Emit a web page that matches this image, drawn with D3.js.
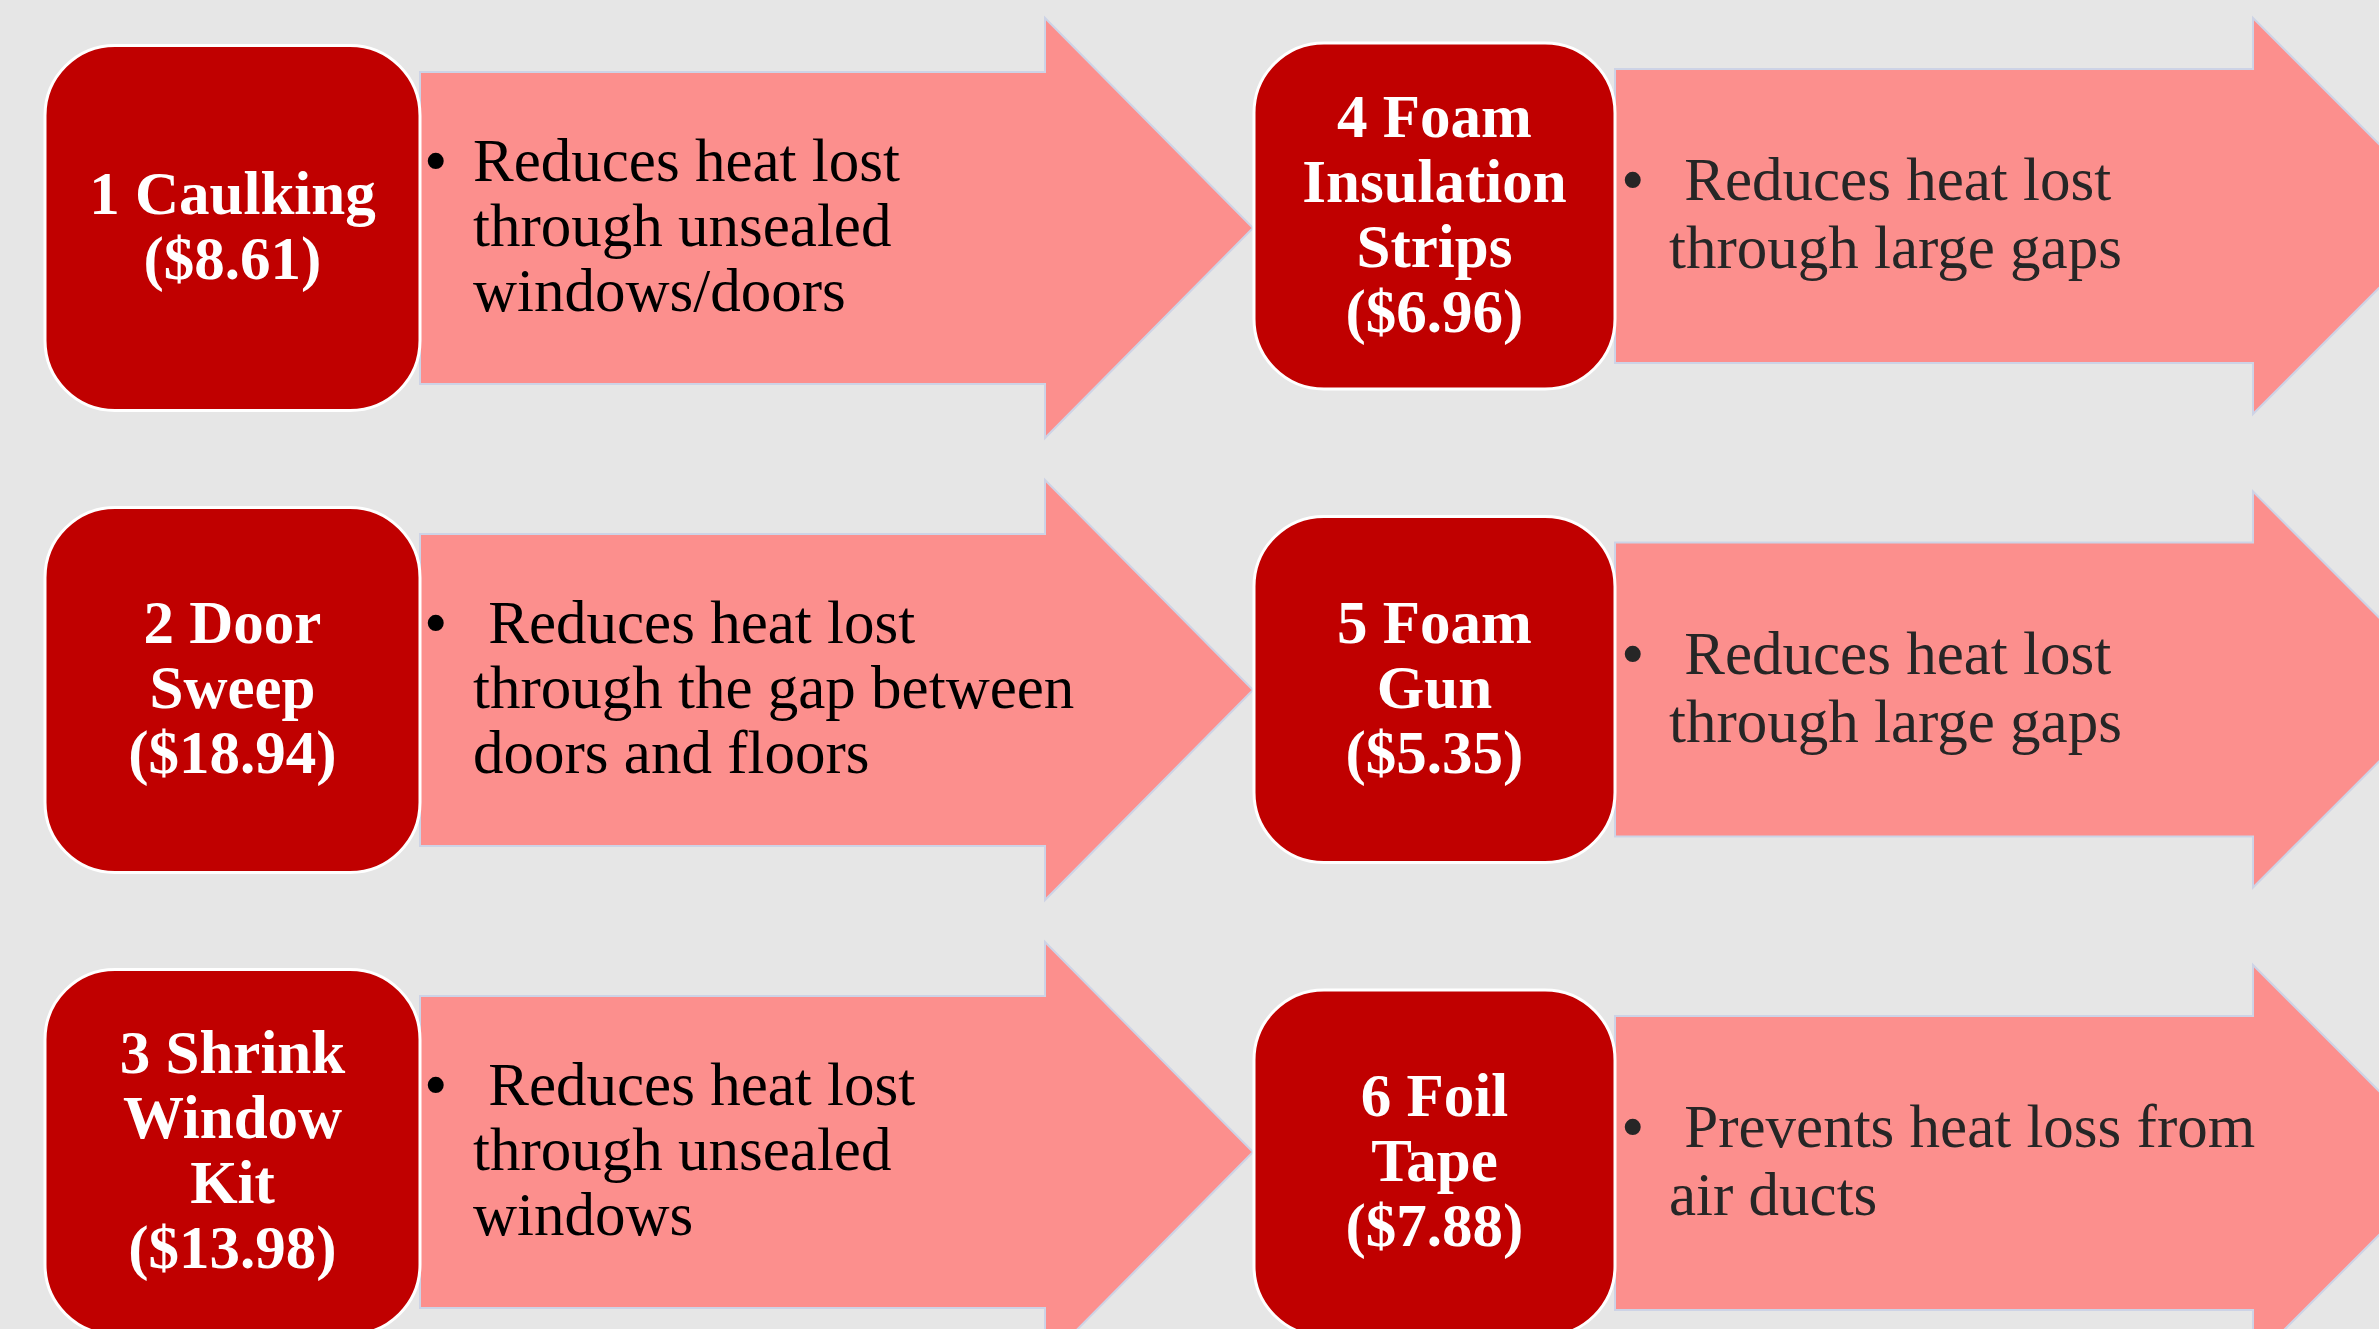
<!DOCTYPE html>
<html>
<head>
<meta charset="utf-8">
<script src="https://cdn.jsdelivr.net/npm/d3@7"></script>
<style>
  html, body { margin: 0; padding: 0; background: #e6e6e6; overflow: hidden; }
  text { font-family: Garamond, "Liberation Serif", serif; white-space: pre; }
</style>
</head>
<body>
<div id="chart"></div>
<script>
// item titles (as wrapped in the boxes), prices and bullet text
var titleLines = [
    ["1 Caulking"],
    ["2 Door", "Sweep"],
    ["3 Shrink", "Window", "Kit"],
    ["4 Foam", "Insulation", "Strips"],
    ["5 Foam", "Gun"],
    ["6 Foil", "Tape"]
];
var prices = [8.61, 18.94, 13.98, 6.96, 5.35, 7.88];
var descLines = [
    ["Reduces heat lost", "through unsealed", "windows/doors"],
    [" Reduces heat lost", "through the gap between", "doors and floors"],
    [" Reduces heat lost", "through unsealed", "windows"],
    [" Reduces heat lost", "through large gaps"],
    [" Reduces heat lost", "through large gaps"],
    [" Prevents heat loss from", "air ducts"]
];
var columnOf = [0, 0, 0, 1, 1, 1];
var rowOf = [0, 1, 2, 0, 1, 2];

var width = 2379, height = 1329;

var svg = d3.select("#chart").append("svg")
    .attr("width", width)
    .attr("height", height);

svg.append("rect")
    .attr("width", width).attr("height", height)
    .attr("fill", "#e6e6e6");

// row centres differ a little between the two columns
var yLeft = d3.scalePoint().domain([0, 1, 2]).range([228, 1152]);
var yRight = d3.scalePoint().domain([0, 1, 2]).range([216, 1163]);

// per column geometry
var cols = [
    { y: yLeft, boxX: 45, boxW: 375, boxH: 365, bodyEnd: 1045, bodyH: 156, headH: 210, headW: 208,
      bulletX: 424, textX: 473, lh: 65, textColor: "#000" },
    { y: yRight, boxX: 1254, boxW: 361, boxH: 346, bodyEnd: 2253, bodyH: 147, headH: 198, headW: 198,
      bulletX: 1621, textX: 1669, lh: 68, textColor: "#262626" }
];

var fmt = d3.format(".2f");
var items = d3.range(prices.length).map(function(i) {
    return {
        title: titleLines[i].concat(["($" + fmt(prices[i]) + ")"]),
        desc: descLines[i],
        col: cols[columnOf[i]],
        row: rowOf[i]
    };
});

var groups = svg.selectAll(".item")
    .data(items).enter().append("g")
    .attr("class", "item");

// arrows
groups.append("path")
    .attr("d", function(d) {
        var c = d.col, cy = c.y(d.row), x0 = c.boxX + c.boxW;
        return "M" + x0 + "," + (cy - c.bodyH) +
            "L" + c.bodyEnd + "," + (cy - c.bodyH) +
            "L" + c.bodyEnd + "," + (cy - c.headH) +
            "L" + (c.bodyEnd + c.headW) + "," + cy +
            "L" + c.bodyEnd + "," + (cy + c.headH) +
            "L" + c.bodyEnd + "," + (cy + c.bodyH) +
            "L" + x0 + "," + (cy + c.bodyH) + "Z";
    })
    .attr("fill", "#fc8f8d")
    .attr("stroke", "#cdd3e6")
    .attr("stroke-width", 2);

// red rounded boxes
groups.append("rect")
    .attr("x", function(d) { return d.col.boxX; })
    .attr("y", function(d) { return d.col.y(d.row) - d.col.boxH / 2; })
    .attr("width", function(d) { return d.col.boxW; })
    .attr("height", function(d) { return d.col.boxH; })
    .attr("rx", 70).attr("ry", 70)
    .attr("fill", "#c00000")
    .attr("stroke", "#ffffff")
    .attr("stroke-width", 3);

// box titles
groups.each(function(d) {
    var g = d3.select(this), c = d.col, cy = c.y(d.row);
    var lh = 65, fs = 61, n = d.title.length;
    g.append("text")
        .attr("text-anchor", "middle")
        .attr("fill", "#fff")
        .style("font-weight", "bold")
        .style("font-size", fs + "px")
        .selectAll("tspan")
        .data(d.title).enter().append("tspan")
        .attr("x", c.boxX + c.boxW / 2)
        .attr("y", function(t, i) { return cy + (i - (n - 1) / 2) * lh + 0.3 * fs; })
        .text(function(t) { return t; });

    // bullet text
    var m = d.desc.length;
    var firstY = cy - (m - 1) / 2 * c.lh + 0.3 * fs;
    g.append("text")
        .attr("x", c.bulletX)
        .attr("y", firstY + 2)
        .attr("fill", c.textColor)
        .style("font-size", (fs * 1.1) + "px")
        .text("\u2022");
    g.append("text")
        .attr("fill", c.textColor)
        .style("font-size", fs + "px")
        .selectAll("tspan")
        .data(d.desc).enter().append("tspan")
        .attr("x", c.textX)
        .attr("y", function(t, i) { return firstY + i * c.lh; })
        .text(function(t) { return t; });
});
</script>
</body>
</html>
